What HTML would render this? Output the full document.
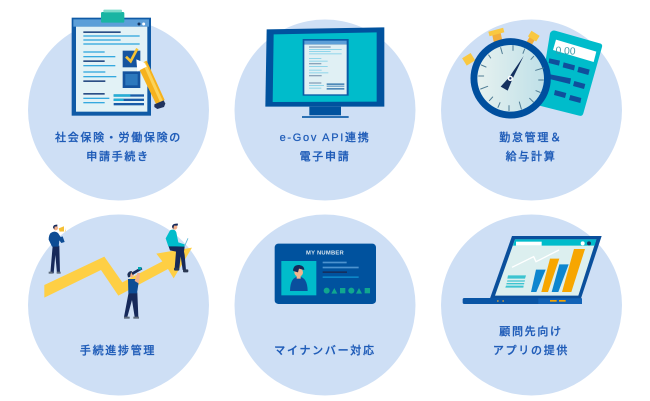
<!DOCTYPE html>
<html lang="ja"><head><meta charset="utf-8"><style>
html,body{margin:0;padding:0;background:#fff;width:650px;height:401px;overflow:hidden}
svg{display:block}
text.t{font-family:"Liberation Sans","Noto Sans CJK JP",sans-serif;font-size:11px;letter-spacing:1.7px;fill:#1f5cb8;stroke:#1f5cb8;stroke-width:.25px;text-anchor:middle;font-weight:500}
.art{filter:blur(.35px)}
</style></head><body>
<svg width="650" height="401" viewBox="0 0 650 401" xmlns="http://www.w3.org/2000/svg">
<g fill="#cedff5">
<circle cx="118.5" cy="110" r="90.5"/><circle cx="325" cy="110" r="90.5"/><circle cx="531.5" cy="110" r="90.5"/>
<circle cx="118.5" cy="305" r="90.5"/><circle cx="325" cy="305" r="90.5"/><circle cx="531.5" cy="305" r="90.5"/>
</g>

<!-- clipboard -->
<g class="art" transform="translate(20 0) scale(.33333)">
<rect x="155" y="53" width="238" height="294" fill="#0f5aa6"/>
<rect x="160" y="58" width="227" height="22" fill="#5c9fd8"/>
<rect x="168" y="80" width="214" height="255" fill="#e2f2f6"/>
<rect x="243" y="36" width="70" height="32" rx="4" fill="#1ab5a3"/>
<rect x="250" y="29" width="56" height="8" rx="3" fill="#7fdccb"/>
<circle cx="357" cy="72" r="4.5" fill="#16355f"/><circle cx="371" cy="72" r="4.5" fill="#fff"/>
<g fill="#2b4f86"><rect x="190" y="94" width="112" height="5"/><rect x="190" y="181" width="64" height="5"/><rect x="190" y="241" width="66" height="5"/><rect x="190" y="279" width="64" height="5"/></g>
<g fill="#35a9df"><rect x="190" y="106" width="169" height="4"/><rect x="190" y="118" width="112" height="4"/><rect x="190" y="130" width="169" height="4"/><rect x="190" y="154" width="64" height="4"/><rect x="190" y="168" width="96" height="4"/><rect x="190" y="195" width="96" height="4"/><rect x="190" y="214" width="66" height="4"/><rect x="190" y="228" width="99" height="4"/><rect x="190" y="293" width="78" height="4"/><rect x="190" y="306" width="64" height="4"/></g>
<g fill="#1a5da8"><rect x="281" y="283" width="91" height="7"/><rect x="281" y="296" width="91" height="7"/><rect x="281" y="309" width="91" height="7"/></g>
<rect x="281" y="283" width="50" height="7" fill="#22b0d6"/><rect x="281" y="296" width="30" height="7" fill="#22b0d6"/>
<rect x="308" y="152" width="53" height="50" fill="#15549f"/><rect x="308" y="214" width="53" height="50" fill="#15549f"/>
<rect x="316" y="222" width="37" height="34" fill="#2c78bd"/>
<path d="M318 170l14 14 20-38" fill="none" stroke="#f7c233" stroke-width="8"/>
<path d="M352 196l28-14 54 118-26 12z" fill="#f6b21d"/>
<path d="M368 190l8-4 52 116-8 4z" fill="#fbd35a"/>
<path d="M349 178l24 10 7 12-28 14z" fill="#fff"/>
<path d="M403 313l28-12 5 10-4 10-20 6-9-6z" fill="#20335f"/>
</g>

<!-- monitor -->
<g class="art" transform="translate(230 0) scale(.33333)">
<path d="M110 88L463 82V320H106z" fill="#00529e"/>
<path d="M131 103L440 97V305L128 306z" fill="#00bccb"/>
<rect x="238" y="320" width="95" height="26" fill="#00529e"/>
<rect x="216" y="348" width="140" height="6" fill="#2a70b4"/>
<rect x="218" y="117" width="138" height="170" fill="#0a5aa5"/>
<rect x="223" y="133" width="127" height="150" fill="#e0f0f4"/>
<rect x="223" y="122" width="127" height="10" fill="#5c9fd8"/>
<g fill="#8aa3ba"><rect x="237" y="139" width="65" height="4"/><rect x="237" y="189" width="37" height="4"/><rect x="237" y="225" width="38" height="4"/><rect x="237" y="247" width="37" height="4"/></g>
<g fill="#8fd5ea"><rect x="237" y="147" width="98" height="3"/><rect x="237" y="153" width="65" height="3"/><rect x="237" y="160" width="98" height="3"/><rect x="237" y="174" width="37" height="3"/><rect x="237" y="182" width="56" height="3"/><rect x="237" y="198" width="56" height="3"/><rect x="237" y="209" width="38" height="3"/><rect x="237" y="217" width="58" height="3"/><rect x="237" y="255" width="45" height="3"/><rect x="237" y="263" width="37" height="3"/></g>
<g fill="#4f8ab8"><rect x="290" y="250" width="53" height="5"/><rect x="290" y="257" width="53" height="3"/><rect x="290" y="264" width="53" height="5"/></g>
</g>

<!-- stopwatch + calculator -->
<g class="art" transform="translate(435 0) scale(.33333)">
<path d="M360 92L497 131Q503 134 501 141L445 340Q442 350 432 347L310 316 345 100Q350 90 360 92z" fill="#00bccb"/>
<path d="M363 119L484 155 476 186 354 150z" fill="#fff"/>
<text x="361" y="161" transform="rotate(3 361 161)" font-family="Liberation Sans,sans-serif" font-size="31" fill="#3f9aa8">0.00</text>
<g fill="#0f4f9c">
<path d="M343 175l32 7-3 15-31-8z"/><path d="M386 187l34 9-3 15-34-9z"/><path d="M431 200l33 9-4 16-33-9z"/>
<path d="M340 222l68 13-3 17-66-16z"/><path d="M418 243l33 9-4 15-33-9z"/>
<path d="M360 270l34 9-4 15-33-9z"/><path d="M406 285l33 9-3 15-34-9z"/>
</g>
<rect x="174" y="100" width="26" height="28" transform="rotate(-12 187 114)" fill="#f3ae3d"/>
<rect x="161" y="89" width="46" height="14" transform="rotate(-15 184 96)" fill="#f9c841"/>
<rect x="278" y="112" width="18" height="22" transform="rotate(30 287 123)" fill="#f3ae3d"/>
<rect x="282" y="98" width="29" height="20" transform="rotate(32 296 108)" fill="#f9c841"/>
<rect x="86" y="165" width="30" height="26" transform="rotate(-32 101 178)" fill="#f9c841"/>
<circle cx="227" cy="235" r="120.5" fill="#004f9e"/>
<defs><linearGradient id="g1" x1="0" y1="0" x2="1" y2="0"><stop offset="0" stop-color="#e6f1ef"/><stop offset="1" stop-color="#bfe0e8"/></linearGradient></defs>
<circle cx="227" cy="235" r="100" fill="url(#g1)"/>
<g stroke="#4f7c94" stroke-width="3" stroke-linecap="round">
<path d="M234 137v14M197 143l5 18M269 147l-5 13M161 165l6 9M296 169l-8 9M139 195l14 6M325 204l-23 7M131 228h15M325 240h-14M137 267l21-8M303 272l12 5M163 302l10-11M284 295l11 11M189 322l6-14M253 306l6 21M222 332v-15"/>
</g>
<path d="M266 168L232 238 218 272 197 260 222 232z" fill="#14305f"/>
<circle cx="226" cy="235" r="8" fill="#fff"/><circle cx="226" cy="235" r="3.5" fill="#14305f"/>
</g>

<!-- arrow + people -->
<g class="art" transform="translate(20 205) scale(.33333)">
<path d="M73 240L253 155 307 232 427 169 409 146 516 128 461 220 444 192 295 272 243 195 73 278z" fill="#fecf44"/>
<!-- megaphone man -->
<path d="M98 122H118L120 205H111L106 150 101 205H91z" fill="#16295a"/>
<rect x="86" y="200" width="12" height="6" fill="#5d6b7c"/><rect x="110" y="200" width="12" height="6" fill="#5d6b7c"/>
<path d="M92 84Q104 76 114 84L122 96 128 94 134 111 124 114 118 106 116 125H96L86 104Q86 90 92 84z" fill="#0d4c94"/>
<circle cx="107" cy="69" r="7" fill="#f2b08a"/><path d="M99 68Q99 58 112 59L112 64 104 65 103 73z" fill="#16295a"/>
<path d="M116 70L134 63 138 79 119 80z" fill="#f5c035"/><rect x="132" y="63" width="4" height="16" fill="#fff"/>
<!-- spyglass man -->
<path d="M326 262H352L355 336H344L336 285 322 336H312z" fill="#16295a"/>
<rect x="312" y="335" width="17" height="6" fill="#5d6b7c"/><rect x="340" y="335" width="17" height="6" fill="#5d6b7c"/>
<path d="M324 222H350L356 232 351 265H325z" fill="#0d4c94"/>
<path d="M344 228L352 204 360 204 357 236z" fill="#f2b08a"/>
<circle cx="333" cy="208" r="9" fill="#f2b08a"/><path d="M322 208Q326 197 336 198L332 207 330 216 324 217z" fill="#1b2f57"/>
<path d="M334 203L364 186 367 193 338 210z" fill="#16295a"/><rect x="354" y="186" width="10" height="8" fill="#00aab5"/>
<!-- sitting man -->
<path d="M445 122L482 118 494 125 492 140 494 150 498 195H488L482 154 478 190H464L468 140 450 136z" fill="#16295a"/>
<rect x="462" y="188" width="16" height="9" rx="3" fill="#2a3852"/><rect x="489" y="193" width="16" height="9" rx="3" fill="#2a3852"/>
<path d="M450 76Q464 70 469 82L475 112 494 118 492 125 467 124H445L437 100z" fill="#00bccb"/>
<path d="M493 125L504 100" stroke="#5fb6d8" stroke-width="2.5"/>
<circle cx="464" cy="66" r="8" fill="#f2b08a"/><path d="M456 66Q456 54 474 56L473 62 462 62 460 72z" fill="#16295a"/>
</g>

<!-- my number card -->
<g class="art" transform="translate(230 205) scale(.33333)">
<rect x="134" y="116" width="304" height="181" rx="11" fill="#00529e"/>
<text x="285" y="148" font-family="Liberation Sans,sans-serif" font-size="17.5" font-weight="700" fill="#d9e6ef" text-anchor="middle" letter-spacing=".7">MY NUMBER</text>
<rect x="154" y="168" width="105" height="103" fill="#00bccb"/>
<path d="M180 258Q181 216 206 215 232 216 233 258z" fill="#0a4f9d"/>
<rect x="200" y="205" width="12" height="16" fill="#f4b48c"/>
<circle cx="206" cy="202" r="13" fill="#f4b48c"/>
<path d="M189 197Q190 179 208 180 223 182 223 195L207 191 204 202 196 200z" fill="#16295a"/>
<rect x="278" y="170" width="72" height="5" fill="#4d93cf"/><rect x="278" y="185" width="108" height="5" fill="#4d93cf"/><rect x="278" y="199" width="73" height="5" fill="#16305f"/><rect x="278" y="214" width="108" height="5" fill="#0d86c7"/>
<g fill="#10a78f">
<circle cx="290" cy="257" r="9"/><path d="M304 266l9-17 9 17z"/><rect x="330" y="249" width="16" height="16"/><circle cx="364" cy="257" r="9"/><path d="M378 266l9-17 9 17z"/><rect x="404" y="249" width="16" height="16"/>
</g>
</g>

<!-- laptop -->
<g class="art" transform="translate(435 205) scale(.33333)">
<path d="M231 93H500L438 280H165z" fill="#0a4f9c"/>
<path d="M240 103H484L430 272H180z" fill="#dcefef"/>
<path d="M240 103H484L479 122H234z" fill="#00bccb"/>
<rect x="243" y="110" width="77" height="12" fill="#fff"/>
<circle cx="443" cy="115" r="6" fill="#fff"/><circle cx="462" cy="115" r="6" fill="#16305f"/>
<path d="M231 187L296 155 303 170 372 135" fill="none" stroke="#fff" stroke-width="4"/>
<path d="M303 194H332L304 261H288z" fill="#0d86cf"/>
<path d="M345 161H373L339 261H319z" fill="#f7a600"/>
<path d="M373 178H401L370 261H350z" fill="#0d86cf"/>
<path d="M417 132H450L409 261H381z" fill="#f7a600"/>
<g fill="#3cc4d0"><path d="M219 211H273L270 221H217z"/><path d="M217 226H270L269 230H216z"/><path d="M215 234H268L267 238H214z"/><path d="M213 242H266L265 248H211z"/></g>
<rect x="83" y="279" width="358" height="18" rx="5" fill="#0a55a5"/>
<rect x="310" y="280" width="131" height="17" fill="#1263b7"/>
<rect x="345" y="285" width="20" height="5" fill="#f7a600"/><rect x="372" y="285" width="20" height="5" fill="#f7a600"/>
<rect x="186" y="286" width="5" height="4" fill="#d9a13b"/><rect x="202" y="286" width="5" height="4" fill="#d9a13b"/>
</g>

<g>
<text class="t" x="118.5" y="141">社会保険・労働保険の</text>
<text class="t" x="118" y="160">申請手続き</text>
<text class="t" x="325" y="141">e-Gov API連携</text>
<text class="t" x="325" y="160">電子申請</text>
<text class="t" x="531" y="141">勤怠管理＆</text>
<text class="t" x="531" y="160">給与計算</text>
<text class="t" x="118" y="354">手続進捗管理</text>
<text class="t" x="325" y="354">マイナンバー対応</text>
<text class="t" x="531" y="335">顧問先向け</text>
<text class="t" x="531" y="354">アプリの提供</text>
</g>
</svg>
</body></html>
